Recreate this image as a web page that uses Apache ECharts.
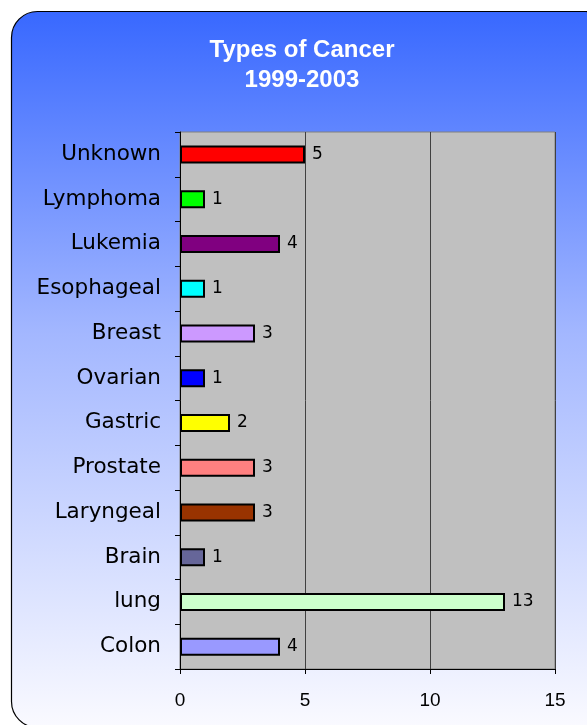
<!DOCTYPE html>
<html>
<head>
<meta charset="utf-8">
<script src="https://cdn.jsdelivr.net/npm/echarts@6/dist/echarts.min.js"></script>
<style>
  html, body { margin: 0; padding: 0; background: #fff; }
  #chart { width: 587px; height: 725px; }
</style>
</head>
<body>
<div id="chart"></div>
<script>
// data, bottom to top as drawn
const categories = ['Colon', 'lung', 'Brain', 'Laryngeal', 'Prostate', 'Gastric', 'Ovarian', 'Breast', 'Esophageal', 'Lukemia', 'Lymphoma', 'Unknown'];
const counts = [4, 13, 1, 3, 3, 2, 1, 3, 1, 4, 1, 5];
const barColors = ['#9999FF', '#CCFFCC', '#666699', '#993300', '#FF8080', '#FFFF00', '#0000FF', '#CC99FF', '#00FFFF', '#800080', '#00FF00', '#FF0000'];
const xTicks = [0, 5, 10, 15];

const chart = echarts.init(document.getElementById('chart'));

const font = 'Liberation Sans, Arial, sans-serif';
const wideFont = 'DejaVu Sans, sans-serif'; // the labels look stretched, DejaVu is close

const options = {
  animation: false,
  textStyle: { fontFamily: font },
  graphic: [
    {
      type: 'rect',
      z: -10,
      shape: { x: 11.5, y: 11.5, width: 600, height: 716, r: 26 },
      style: {
        fill: new echarts.graphic.LinearGradient(0, 0, 0, 1, [
          { offset: 0, color: '#3868FF' },
          { offset: 0.45, color: '#A3B7FF' },
          { offset: 1, color: '#FAFAFF' }
        ]),
        stroke: '#000',
        lineWidth: 1.2
      }
    }
  ],
  title: {
    text: 'Types of Cancer\n1999-2003',
    left: 297,
    textAlign: 'center',
    top: 30,
    textStyle: {
      color: '#fff',
      fontWeight: 'bold',
      fontSize: 24,
      lineHeight: 30,
      fontFamily: font
    }
  },
  tooltip: { show: false },
  grid: {
    left: 180,
    right: 32,
    top: 132,
    bottom: 56,
    show: true,
    backgroundColor: '#C0C0C0',
    borderColor: '#808080',
    borderWidth: 1
  },
  xAxis: {
    type: 'value',
    min: xTicks[0],
    max: xTicks[xTicks.length - 1],
    interval: 5,
    axisLine: { show: true, lineStyle: { color: '#000', width: 1 } },
    axisTick: { show: true, length: 5, lineStyle: { color: '#000' } },
    axisLabel: { color: '#000', fontSize: 19, margin: 22, fontFamily: font },
    splitLine: { show: true, lineStyle: { color: '#404040', width: 1 } }
  },
  yAxis: {
    type: 'category',
    data: categories,
    axisLine: { show: true, lineStyle: { color: '#000', width: 1 } },
    axisTick: { show: true, length: 5, lineStyle: { color: '#000' } },
    axisLabel: { color: '#000', fontSize: 21.5, margin: 19, fontFamily: wideFont },
    splitLine: { show: false }
  },
  series: [
    {
      type: 'bar',
      data: counts.map((v, i) => ({
        value: v,
        itemStyle: { color: barColors[i] }
      })),
      barWidth: 18,
      itemStyle: { borderColor: '#000', borderWidth: 2 },
      label: {
        show: true,
        position: 'right',
        distance: 7,
        color: '#000',
        fontSize: 17,
        fontFamily: wideFont
      }
    }
  ]
};

chart.setOption(options);
</script>
</body>
</html>
